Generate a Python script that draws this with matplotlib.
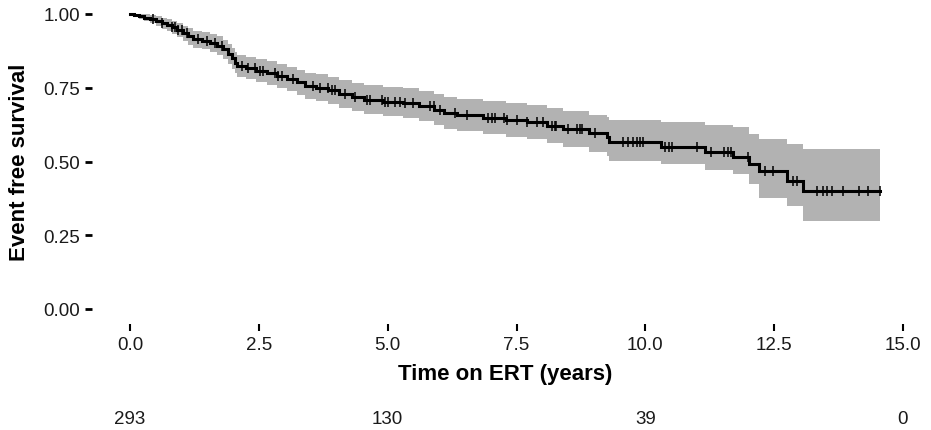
"""
Kaplan-Meier curve: event free survival on ERT.
"""

import matplotlib
matplotlib.use("Agg")
import matplotlib.pyplot as plt
import matplotlib.transforms as mtransforms
import numpy as np

plt.rcParams["font.family"] = ["Liberation Sans", "DejaVu Sans"]

# step times (years) and survival after each step, with 95% CI
step_time = [0.00, 0.08, 0.18, 0.28, 0.38, 0.50, 0.62, 0.72, 0.82, 0.92,
             1.02, 1.12, 1.22, 1.40, 1.55, 1.68, 1.80, 1.90, 1.98, 2.03,
             2.08, 2.25, 2.45, 2.65, 2.85, 3.05, 3.25, 3.40, 3.60, 3.85,
             4.05, 4.30, 4.55, 4.90, 5.30, 5.60, 5.90, 6.10, 6.35, 6.85,
             7.30, 7.70, 8.10, 8.40, 8.90, 9.25, 9.30, 10.30, 11.15, 11.70,
             12.02, 12.20, 12.75, 13.05]
surv = [1.000, 0.997, 0.993, 0.988, 0.983, 0.976, 0.969, 0.962, 0.955, 0.946,
        0.935, 0.924, 0.915, 0.910, 0.902, 0.892, 0.880, 0.866, 0.850, 0.835,
        0.824, 0.816, 0.808, 0.800, 0.790, 0.780, 0.768, 0.757, 0.750, 0.741,
        0.730, 0.718, 0.710, 0.703, 0.697, 0.688, 0.676, 0.665, 0.658, 0.648,
        0.640, 0.634, 0.622, 0.610, 0.595, 0.582, 0.566, 0.550, 0.532, 0.515,
        0.490, 0.468, 0.434, 0.400]
lower = [1.000, 0.991, 0.984, 0.976, 0.969, 0.959, 0.950, 0.941, 0.933, 0.922,
         0.909, 0.896, 0.886, 0.880, 0.871, 0.860, 0.847, 0.832, 0.815, 0.799,
         0.787, 0.778, 0.769, 0.760, 0.749, 0.738, 0.725, 0.713, 0.705, 0.695,
         0.683, 0.670, 0.661, 0.653, 0.646, 0.636, 0.623, 0.611, 0.603, 0.592,
         0.583, 0.576, 0.562, 0.549, 0.532, 0.517, 0.503, 0.492, 0.472, 0.456,
         0.424, 0.375, 0.350, 0.298]
upper = [1.000, 1.000, 1.000, 0.999, 0.997, 0.993, 0.988, 0.983, 0.977, 0.970,
         0.961, 0.952, 0.944, 0.940, 0.933, 0.924, 0.913, 0.900, 0.885, 0.871,
         0.861, 0.854, 0.847, 0.840, 0.831, 0.822, 0.811, 0.801, 0.795, 0.787,
         0.777, 0.766, 0.759, 0.753, 0.748, 0.740, 0.729, 0.719, 0.713, 0.704,
         0.697, 0.692, 0.682, 0.671, 0.658, 0.650, 0.640, 0.634, 0.625, 0.617,
         0.593, 0.576, 0.560, 0.542]
last_time = 14.56

# censored observations (years)
censor_time = [0.45, 0.62, 0.82, 0.88, 0.94, 1.01, 1.10, 1.32, 1.50, 1.65,
               1.79, 2.17, 2.29, 2.43, 2.52, 2.58, 2.82, 2.88, 2.95, 3.17,
               3.55, 3.69, 3.84, 3.92, 3.98, 4.17, 4.37, 4.60, 4.66, 4.89,
               4.95, 5.01, 5.15, 5.24, 5.34, 5.50, 5.83, 5.89, 6.02, 6.31,
               6.54, 6.95, 7.02, 7.09, 7.25, 7.32, 7.51, 7.70, 7.90, 8.02,
               8.18, 8.24, 8.27, 8.50, 8.68, 8.74, 8.77, 9.03, 9.57, 9.67,
               9.77, 9.84, 9.90, 9.96, 10.39, 10.45, 10.52, 11.00, 11.27, 11.52,
               11.60, 11.66, 12.00, 12.33, 12.47, 12.87, 12.95, 13.34, 13.44, 13.53,
               13.63, 13.83, 14.14, 14.33, 14.56]

# numbers at risk
risk_time = [0, 5, 10, 15]
risk_n = [293, 130, 39, 0]


def km_plot():
    fig = plt.figure(figsize=(9.31, 4.31), dpi=100)
    W, H = 931, 431
    x0_px, x1_px = 130, 903   # data x = 0 and 15
    y1_px, y0_px = 15, 310    # data y = 1 and 0
    xs = (x1_px - x0_px) / 15
    ys = (y0_px - y1_px) / 1.0
    pad = 0.05 * last_time
    xlim = (-pad, last_time + pad)
    ylim = (-0.05, 1.05)
    left = x0_px + xlim[0] * xs
    right = x0_px + xlim[1] * xs
    top = y0_px - ylim[1] * ys
    bottom = y0_px - ylim[0] * ys
    ax = fig.add_axes([left / W, 1 - bottom / H, (right - left) / W, (bottom - top) / H])

    t = np.append(step_time, last_time)
    s = np.append(surv, surv[-1])
    lo = np.append(lower, lower[-1])
    hi = np.append(upper, upper[-1])

    ax.fill_between(t, lo, hi, step="post", color="#b2b2b2", linewidth=0)
    ax.step(t, s, where="post", color="black", linewidth=2.2, solid_joinstyle="miter")

    idx = np.searchsorted(step_time, censor_time, side="right") - 1
    cs = np.array(surv)[idx]
    ax.plot(censor_time, cs, linestyle="none", marker="|", markersize=6.5,
            markeredgewidth=1.1, color="black")

    ax.set_xlim(*xlim)
    ax.set_ylim(*ylim)
    ax.set_xticks([0, 2.5, 5, 7.5, 10, 12.5, 15])
    ax.set_xticklabels(["0.0", "2.5", "5.0", "7.5", "10.0", "12.5", "15.0"])
    ax.set_yticks([0, 0.25, 0.5, 0.75, 1.0])
    ax.set_yticklabels(["0.00", "0.25", "0.50", "0.75", "1.00"])
    for sp in ax.spines.values():
        sp.set_visible(False)
    ax.tick_params(axis="y", length=5, width=2.0, pad=4, labelsize=13.5,
                   colors="black", labelcolor="#1a1a1a")
    ax.tick_params(axis="x", length=5, width=1.5, pad=4, labelsize=13.5,
                   colors="black", labelcolor="#1a1a1a")
    ax.set_xlabel("Time on ERT (years)", fontsize=16, fontweight="bold", labelpad=7)
    ax.set_ylabel("Event free survival", fontsize=16, fontweight="bold")
    ax.yaxis.set_label_coords((30 - left) / (right - left), 0.5)

    trans = mtransforms.blended_transform_factory(ax.transData, fig.transFigure)
    for rt, n in zip(risk_time, risk_n):
        ax.text(rt, 1 - 420 / H, str(n), transform=trans, ha="center", va="center",
                fontsize=13.5, color="#1a1a1a", clip_on=False)

    plt.savefig("out.png", dpi=100)


if __name__ == "__main__":
    km_plot()
